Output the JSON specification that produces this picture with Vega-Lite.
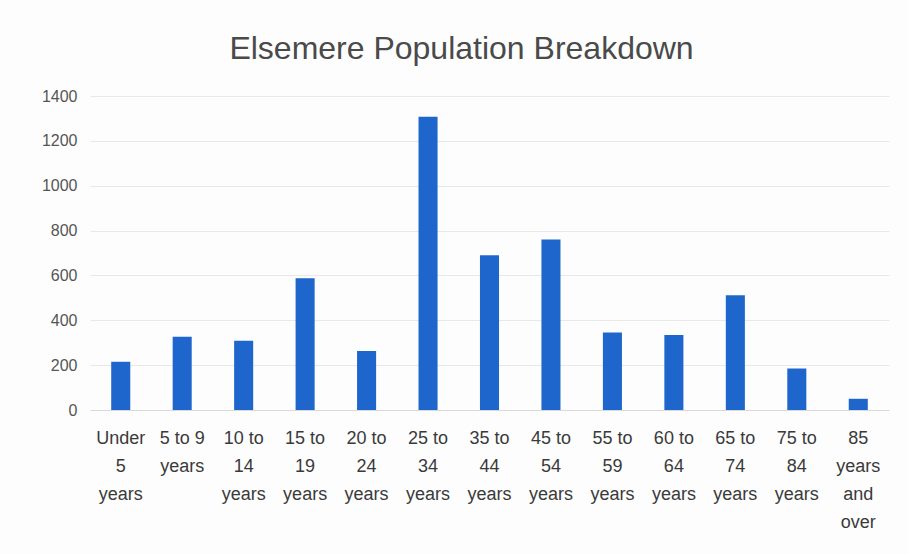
{
  "$schema": "https://vega.github.io/schema/vega-lite/v6.json",
  "autosize": {"type": "none"},
  "width": 799,
  "height": 314,
  "padding": {"left": 90, "top": 96, "right": 19, "bottom": 144},
  "background": "#fdfdfd",
  "title": {
    "text": "Elsemere Population Breakdown",
    "fontSize": 32,
    "font": "Liberation Sans",
    "fontWeight": "normal",
    "color": "#4a4a4a",
    "anchor": "middle",
    "dx": -28,
    "offset": 22
  },
  "data": {
    "values": [
      {"age": "Under 5 years", "population": 215},
      {"age": "5 to 9 years", "population": 327},
      {"age": "10 to 14 years", "population": 309},
      {"age": "15 to 19 years", "population": 587},
      {"age": "20 to 24 years", "population": 263},
      {"age": "25 to 34 years", "population": 1308},
      {"age": "35 to 44 years", "population": 690},
      {"age": "45 to 54 years", "population": 760},
      {"age": "55 to 59 years", "population": 345},
      {"age": "60 to 64 years", "population": 334},
      {"age": "65 to 74 years", "population": 512},
      {"age": "75 to 84 years", "population": 185},
      {"age": "85 years and over", "population": 50}
    ]
  },
  "mark": {"type": "bar", "color": "#1f66cc"},
  "encoding": {
    "x": {
      "field": "age",
      "type": "nominal",
      "sort": null,
      "scale": {"paddingInner": 0.69, "paddingOuter": 0.345},
      "axis": {
        "title": null,
        "labelAngle": 0,
        "labelFont": "Liberation Sans",
        "labelFontSize": 18,
        "labelColor": "#3a3a3a",
        "labelLineHeight": 28,
        "labelPadding": 19,
        "labelBaseline": "top",
        "ticks": false,
        "domain": true,
        "domainColor": "#d9d9d9",
        "labelExpr": "datum.value == 'Under 5 years' ? ['Under', '5', 'years'] : datum.value == '5 to 9 years' ? ['5 to 9', 'years'] : datum.value == '85 years and over' ? ['85', 'years', 'and', 'over'] : [slice(datum.value, 0, 5), slice(datum.value, 6, 8), 'years']"
      }
    },
    "y": {
      "field": "population",
      "type": "quantitative",
      "scale": {"domain": [0, 1400]},
      "axis": {
        "title": null,
        "format": "d",
        "values": [0, 200, 400, 600, 800, 1000, 1200, 1400],
        "labelFont": "Liberation Sans",
        "labelFontSize": 16,
        "labelColor": "#555555",
        "labelPadding": 13,
        "ticks": false,
        "domain": false,
        "grid": true,
        "gridColor": "#e8e8e8"
      }
    }
  },
  "config": {"view": {"stroke": null}}
}
